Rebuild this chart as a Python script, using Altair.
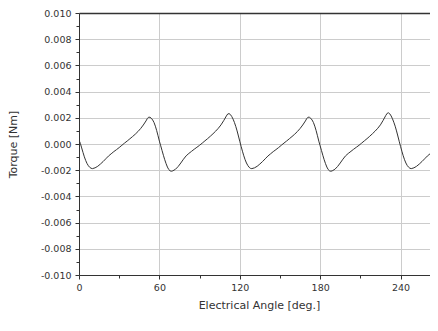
import altair as alt
import pandas as pd

# Electrical angle [deg.]
angle = [
    0, 1, 2, 3, 4, 5, 6, 7, 8, 9, 10, 12, 14, 16, 18, 20, 22, 24, 26, 28, 30,
    32, 34, 36, 38, 40, 42, 44, 46, 48, 50, 51, 52, 53, 54, 55, 56, 57, 58, 59,
    60, 61, 62, 63, 64, 65, 66, 67, 68, 69, 70, 72, 74, 76, 78, 80, 82, 84, 86,
    88, 90, 92, 94, 96, 98, 100, 102, 104, 106, 108, 110, 111, 112, 113, 114,
    115, 116, 117, 118, 119, 120, 121, 122, 123, 124, 125, 126, 127, 128, 129,
    131, 133, 135, 137, 139, 141, 143, 145, 147, 149, 151, 153, 155, 157, 159,
    161, 163, 165, 167, 169, 170, 171, 172, 173, 174, 175, 176, 177, 178, 179,
    180, 181, 182, 183, 184, 185, 186, 187, 188, 189, 191, 193, 195, 197, 199,
    201, 203, 205, 207, 209, 211, 213, 215, 217, 219, 221, 223, 225, 227, 229,
    230, 231, 232, 233, 234, 235, 236, 237, 238, 239, 240, 241, 242, 243, 244,
    245, 246, 247, 248, 250, 252, 254, 256, 258, 260, 262, 264, 266, 268,
]

# Torque [Nm]
torque = [
    0.00030, 0.00005, -0.00030, -0.00065, -0.00098, -0.00126, -0.00149,
    -0.00166, -0.00178, -0.00185, -0.00188, -0.00182, -0.00170, -0.00153,
    -0.00134, -0.00113, -0.00092, -0.00075, -0.00058, -0.00043, -0.00027,
    -0.00010, 0.00007, 0.00023, 0.00040, 0.00057, 0.00075, 0.00095, 0.00118,
    0.00145, 0.00176, 0.00194, 0.00205, 0.00204, 0.00196, 0.00183, 0.00164,
    0.00136, 0.00102, 0.00063, 0.00022, -0.00014, -0.00050, -0.00086,
    -0.00120, -0.00150, -0.00176, -0.00195, -0.00205, -0.00208, -0.00205,
    -0.00193, -0.00172, -0.00145, -0.00116, -0.00090, -0.00072, -0.00056,
    -0.00040, -0.00025, -0.00010, 0.00007, 0.00024, 0.00041, 0.00059,
    0.00078, 0.00098, 0.00120, 0.00146, 0.00178, 0.00214, 0.00229, 0.00232,
    0.00225, 0.00210, 0.00190, 0.00165, 0.00135, 0.00100, 0.00061, 0.00021,
    -0.00018, -0.00055, -0.00090, -0.00120, -0.00145, -0.00164, -0.00178,
    -0.00186, -0.00188,
    -0.00182, -0.00170, -0.00153, -0.00134, -0.00113, -0.00092, -0.00075,
    -0.00058, -0.00043, -0.00027, -0.00010, 0.00007, 0.00023, 0.00040,
    0.00057, 0.00075, 0.00095, 0.00118, 0.00145, 0.00176, 0.00194, 0.00205,
    0.00204, 0.00196, 0.00183, 0.00164, 0.00136, 0.00102, 0.00063, 0.00022,
    -0.00014, -0.00050, -0.00086, -0.00120, -0.00150, -0.00176, -0.00195,
    -0.00205, -0.00208, -0.00205,
    -0.00193, -0.00172, -0.00145, -0.00116, -0.00090, -0.00072, -0.00056,
    -0.00040, -0.00025, -0.00010, 0.00007, 0.00024, 0.00041, 0.00059,
    0.00078, 0.00098, 0.00120, 0.00146, 0.00180, 0.00218, 0.00234, 0.00238,
    0.00230, 0.00214, 0.00192, 0.00166, 0.00136, 0.00100, 0.00061, 0.00021,
    -0.00018, -0.00055, -0.00090, -0.00120, -0.00145, -0.00164, -0.00177,
    -0.00185, -0.00188,
    -0.00182, -0.00170, -0.00153, -0.00134, -0.00113, -0.00092, -0.00075,
    -0.00058, -0.00043, -0.00027,
]

x_major = [0, 60, 120, 180, 240]
x_minor = [30, 90, 150, 210]
y_major = [-0.010, -0.008, -0.006, -0.004, -0.002, 0.0, 0.002, 0.004, 0.006, 0.008, 0.010]
y_minor = [-0.009, -0.007, -0.005, -0.003, -0.001, 0.001, 0.003, 0.005, 0.007, 0.009]

df = pd.DataFrame({"angle": angle, "torque": torque})

FONT = "DejaVu Sans"
DARK = "#333333"
GRID = "#cccccc"

xscale = alt.Scale(domain=[0, 262], nice=False, zero=False)
yscale = alt.Scale(domain=[-0.010, 0.010], nice=False, zero=False)

line = alt.Chart(df).mark_line(color=DARK, strokeWidth=1, clip=True).encode(
    x=alt.X(
        "angle:Q",
        scale=xscale,
        axis=alt.Axis(
            values=x_major,
            orient="bottom",
            title="Electrical Angle [deg.]",
            grid=True,
            gridColor=GRID,
            gridWidth=1,
            tickSize=4,
            tickColor=DARK,
            domainColor=DARK,
            labelFont=FONT,
            labelFontSize=9.5,
            labelColor=DARK,
            labelPadding=3,
            labelFlush=False,
            titleFont=FONT,
            titleFontSize=11,
            titleFontWeight="normal",
            titleColor=DARK,
            titlePadding=8,
            titleX=180,
        ),
    ),
    y=alt.Y(
        "torque:Q",
        scale=yscale,
        axis=alt.Axis(
            values=y_major,
            orient="left",
            title="Torque [Nm]",
            labelExpr="replace(format(datum.value, '.3f'), '\u2212', '-')",
            grid=True,
            gridColor=GRID,
            gridWidth=1,
            tickSize=4,
            tickColor=DARK,
            domainColor=DARK,
            labelFont=FONT,
            labelFontSize=9.5,
            labelColor=DARK,
            labelPadding=4,
            labelFlush=False,
            titleFont=FONT,
            titleFontSize=11,
            titleFontWeight="normal",
            titleColor=DARK,
            titlePadding=22,
        ),
    ),
)

minor = alt.Chart(df).mark_line(opacity=0).encode(
    x=alt.X(
        "angle:Q",
        scale=xscale,
        axis=alt.Axis(
            values=x_minor, orient="bottom", labels=False, grid=False,
            domain=False, tickSize=3, tickColor=DARK, title=None,
        ),
    ),
    y=alt.Y(
        "torque:Q",
        scale=yscale,
        axis=alt.Axis(
            values=y_minor, orient="left", labels=False, grid=False,
            domain=False, tickSize=3, tickColor=DARK, title=None,
        ),
    ),
)

top_border = alt.Chart(df).mark_line(opacity=0).encode(
    x=alt.X(
        "angle:Q",
        scale=xscale,
        axis=alt.Axis(
            orient="top", labels=False, ticks=False, grid=False,
            domain=True, domainColor=DARK, domainWidth=1.5, title=None,
        ),
    ),
    y=alt.Y("torque:Q", scale=yscale, axis=None),
)

chart = (
    alt.layer(line, minor, top_border)
    .resolve_axis(x="independent", y="independent")
    .properties(
        width=351,
        height=262,
        padding={"left": 71, "top": 5, "right": 0, "bottom": 45},
        autosize=alt.AutoSizeParams(type="none"),
        background="white",
    )
    .configure_view(strokeWidth=0)
)

chart.save("out.html", embed_options={"renderer": "svg", "actions": False})
